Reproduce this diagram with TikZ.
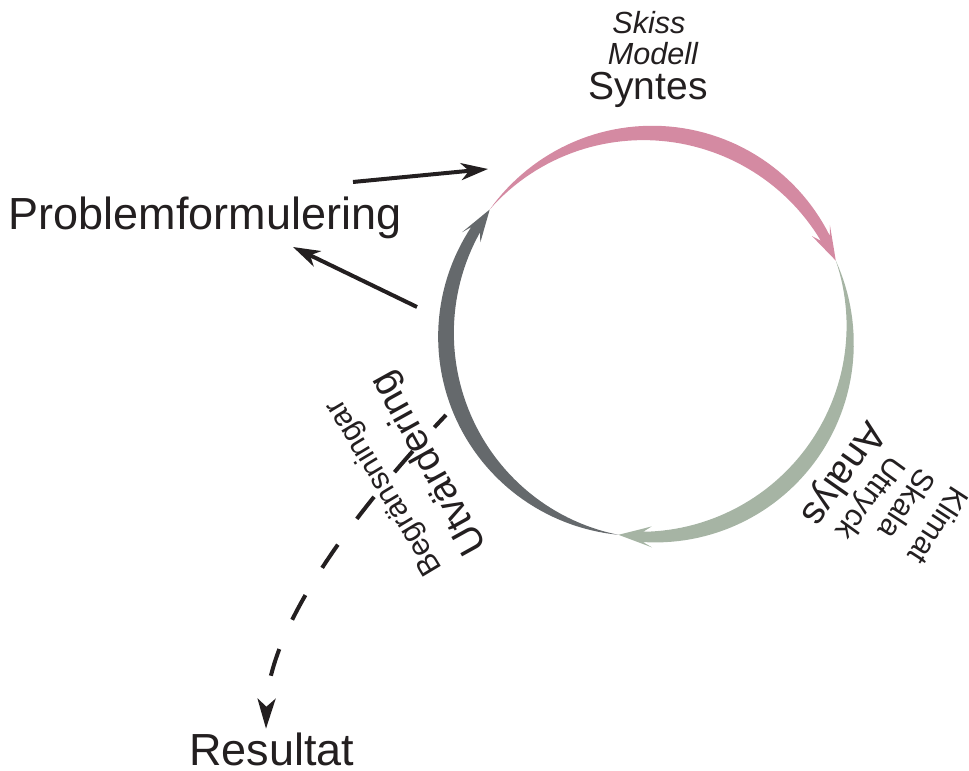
\documentclass[tikz,border=0pt]{standalone}
\usepackage{fontspec}
\setmainfont{Liberation Sans}
\usetikzlibrary{arrows.meta}

\definecolor{ink}{RGB}{35,31,32}
\definecolor{pinkarc}{RGB}{212,138,162}
\definecolor{sagearc}{RGB}{166,180,164}
\definecolor{slatearc}{RGB}{101,105,108}

\begin{document}
\begin{tikzpicture}[line join=round,
  mainlabel/.style={font=\fontsize{11.1}{13}\selectfont,text=ink,inner sep=0pt},
  sublabel/.style={font=\fontsize{8.7}{10}\selectfont,text=ink,inner sep=0pt},
  subitlabel/.style={sublabel,font=\fontsize{8.7}{10}\selectfont\itshape},
  endlabel/.style={font=\fontsize{12.8}{15}\selectfont,text=ink,inner sep=0pt},
  flow/.style={draw=ink,line width=0.04cm,-{Stealth[length=0.27cm,width=0.17cm,inset=0.08cm]}}]
  \useasboundingbox (0,0) rectangle (9.69,7.71);
  \coordinate (c) at (6.48,4.36);
  % three tapered arcs of the cycle
  \begin{scope}[shift={(c)}]
    \foreach \s/\col in {141.6/pinkarc,21.6/sagearc,-98.4/slatearc} {
      \pgfmathsetmacro{\atip}{\s-120}
      \pgfmathsetmacro{\ajoin}{\s-113}
      \pgfmathsetmacro{\abarb}{\s-110.5}
      \fill[\col] plot[domain=\s:\ajoin,samples=60] (\x:{2.02+0.08*sin(140*(\s-\x)/113)})
        -- (\abarb:2.125) -- (\atip:2.02) -- (\abarb:1.915)
        -- plot[domain=\ajoin:\s,samples=60] (\x:{2.02-0.08*sin(140*(\s-\x)/113)}) -- cycle;
    }
  \end{scope}
  % labels
  \node[mainlabel,anchor=base] (syntes) at (6.48,6.71) {Syntes};
  \node[subitlabel,anchor=base] (modell) at (6.53,7.06) {Modell};
  \node[subitlabel,anchor=base] (skiss) at (6.49,7.37) {Skiss};
  \node[mainlabel,rotate=-125] (analys) at ([shift={(-35.4:2.38)}]c) {Analys};
  \node[sublabel,rotate=-126] (uttryck) at ([shift={(-36.3:2.74)}]c) {Uttryck};
  \node[sublabel,rotate=-123] (skala) at ([shift={(-33.1:3.10)}]c) {Skala};
  \node[sublabel,rotate=-123] (klimat) at ([shift={(-33.3:3.48)}]c) {Klimat};
  \node[mainlabel,rotate=119] (utvardering) at ([shift={(210.4:2.53)}]c) {Utvärdering};
  \node[sublabel,rotate=121] (begr) at ([shift={(210:3.04)}]c) {Begränsningar};
  \node[endlabel,anchor=base] (problem) at (2.05,5.41) {Problemformulering};
  \node[endlabel,anchor=base] (resultat) at (2.72,0.05) {Resultat};
  % connectors
  \coordinate (from-problem) at (3.53,5.89);
  \coordinate (to-cycle) at (4.88,6.02);
  \coordinate (from-cycle) at (4.17,4.64);
  \coordinate (to-problem) at (2.93,5.24);
  \coordinate (exit) at (4.46,3.56);
  \draw[flow] (from-problem) -- (to-cycle);
  \draw[flow] (from-cycle) -- (to-problem);
  \draw[flow,dash pattern=on 0.28cm off 0.32cm,dash phase=0.11cm,
    -{Stealth[length=0.30cm,width=0.18cm,inset=0.08cm]}]
    (exit) .. controls (3.70,2.76) and (2.68,1.51) .. ([shift={(-0.06,0.04)}]resultat.north);
\end{tikzpicture}
\end{document}
